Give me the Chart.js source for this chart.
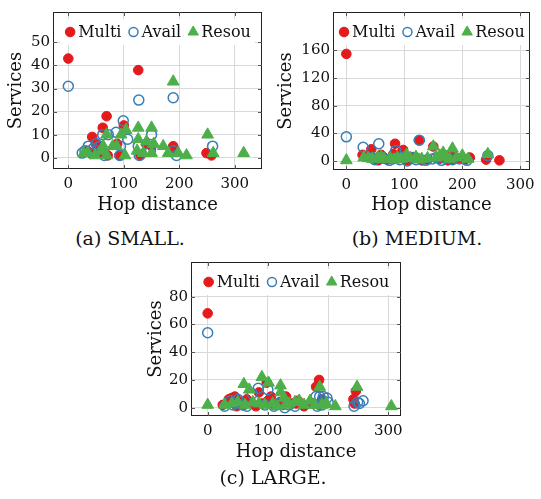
<!DOCTYPE html>
<html>
<head>
<meta charset="utf-8">
<script src="https://cdn.jsdelivr.net/npm/chart.js@4.4.0/dist/chart.umd.min.js"></script>
<style>
  body { margin: 0; background: #fff; width: 541px; height: 499px; position: relative; overflow: hidden; font-family: "DejaVu Serif", serif; }
  canvas { position: absolute; }
  .cap { position: absolute; text-align: center; font-size: 19px; line-height: 24px; color: #111; white-space: nowrap; }
</style>
</head>
<body>
<canvas id="small" width="270" height="220" style="left:0;top:0"></canvas>
<canvas id="medium" width="271" height="220" style="left:270px;top:0"></canvas>
<canvas id="large" width="270" height="217" style="left:140px;top:250px"></canvas>
<div class="cap" style="left:0;top:226px;width:260px">(a) SMALL.</div>
<div class="cap" style="left:317px;top:226px;width:200px">(b) MEDIUM.</div>
<div class="cap" style="left:173px;top:465px;width:200px">(c) LARGE.</div>
<script>
// [hop distance, services]
const smallMulti = [[0,43],[126,38],[69,18],[62,13],[43,9],[100,14],[88,6],[50,6],[34,3],[56,4],[62,2],[71,1],[92,1],[130,1],[140,6],[150,5],[189,5],[249,2],[258,1],[190,4],[40,2]];
const smallAvail = [[0,31],[127,25],[189,26],[99,16],[86,11],[62,10],[72,10],[150,10],[107,8],[36,5],[50,6],[45,4],[25,2],[94,5],[126,5],[128,1],[65,1],[93,1],[148,3],[189,3],[195,1],[260,5],[57,5],[30,3]];
const smallResou = [[189,33],[126,13],[150,13],[104,12],[95,10],[251,10],[69,10],[126,8],[141,7],[154,6],[171,5],[87,5],[63,5],[124,3],[180,2],[198,2],[213,1],[261,2],[316,2],[135,2],[150,2],[102,1],[35,2],[48,1],[69,1],[28,2],[80,5],[60,3]];

const mediumMulti = [[0,155],[125,30],[84,25],[150,21],[43,17],[98,16],[28,9],[60,9],[81,10],[95,12],[181,8],[213,5],[241,2],[264,1],[50,3],[70,2],[105,1],[120,5],[140,2],[160,3],[175,1],[195,4],[205,2],[110,6],[65,5],[90,4],[130,1],[170,6],[55,1],[185,3]];
const mediumAvail = [[0,35],[29,20],[56,25],[85,15],[126,30],[244,8],[49,2],[74,1],[137,1],[164,1],[183,2],[208,1],[92,2],[115,5],[148,3],[63,4],[100,6],[170,4],[80,3],[45,5],[120,2],[195,3],[105,0],[155,5]];
const mediumResou = [[0,1],[150,21],[183,18],[244,10],[200,8],[104,9],[161,8],[167,12],[172,6],[38,4],[54,5],[65,3],[75,4],[88,5],[95,3],[110,4],[120,6],[130,3],[140,4],[155,5],[190,5],[210,3],[45,3],[82,2],[125,2],[178,3],[30,5],[60,6]];

const largeMulti = [[0,68],[185,20],[180,15],[98,18],[85,11],[246,12],[242,6],[244,3],[147,3],[150,5],[25,2],[35,6],[40,7],[45,8],[50,5],[55,3],[60,2],[70,4],[80,1],[90,3],[100,5],[110,2],[120,4],[130,8],[140,3],[160,1],[175,3],[190,6],[48,1],[65,6],[105,8],[125,2],[185,2]];
const largeAvail = [[0,54],[84,14],[100,13],[74,10],[180,8],[186,8],[192,8],[198,7],[200,4],[243,1],[249,4],[258,5],[252,3],[28,1],[38,5],[45,3],[50,6],[58,2],[65,1],[95,2],[110,1],[118,3],[128,0],[135,2],[145,1],[182,1],[190,2],[42,2]];
const largeResou = [[0,2],[90,22],[60,17],[69,13],[101,18],[121,16],[121,11],[127,7],[28,2],[186,15],[248,15],[305,1],[212,1],[170,5],[152,5],[197,3],[40,3],[50,4],[62,2],[75,4],[85,3],[95,2],[108,3],[115,1],[135,3],[145,4],[160,2],[178,2],[190,2],[130,2]];

const hopTicks = [0, 100, 200, 300];
const smallTicks = [0, 10, 20, 30, 40, 50];
const mediumTicks = [0, 40, 80, 120, 160];
const largeTicks = [0, 20, 40, 60, 80];

const RED = '#e41a1c', BLUE = '#377eb8', GREEN = '#4daf4a';
const GRID = '#d9d9d9', FRAME = '#222', INK = '#111';
const SERIF = '"DejaVu Serif", serif';

const toPts = arr => arr.map(p => ({ x: p[0], y: p[1] }));

// pgfplots-like box: full frame, inner tick marks, legend inside the top of the plot
const framePlugin = {
  id: 'frame',
  afterDatasetsDraw(chart) {
    const { ctx, chartArea: a, scales } = chart;
    const line = (x1, y1, x2, y2) => { ctx.beginPath(); ctx.moveTo(x1, y1); ctx.lineTo(x2, y2); ctx.stroke(); };
    ctx.save();

    // legend
    ctx.font = '16px ' + SERIF;
    ctx.textBaseline = 'middle';
    const items = chart.data.datasets.map(ds => ({ ds, w: ctx.measureText(ds.label).width }));
    const mark = 12, gap = 2, sep = 6;
    const total = items.reduce((s, it) => s + mark + gap + it.w, 0) + sep * (items.length - 1);
    let lx = (a.left + a.right) / 2 - total / 2;
    const ly = a.top + 20;
    ctx.fillStyle = '#fff';
    ctx.fillRect(lx - 4, ly - 13, total + 8, 26);
    items.forEach(it => {
      const ds = it.ds;
      ctx.fillStyle = ds.backgroundColor;
      ctx.strokeStyle = ds.borderColor;
      ctx.lineWidth = ds.borderWidth;
      Chart.helpers.drawPoint(ctx, { pointStyle: ds.pointStyle, radius: ds.legendRadius, borderWidth: ds.borderWidth, rotation: 0 }, lx + mark / 2, ly);
      ctx.fillStyle = INK;
      ctx.fillText(ds.label, lx + mark + gap, ly + 1);
      lx += mark + gap + it.w + sep;
    });

    // frame and tick marks
    ctx.strokeStyle = FRAME;
    ctx.lineWidth = 1;
    ctx.strokeRect(Math.round(a.left) + 0.5, Math.round(a.top) + 0.5, Math.round(a.width) - 1, Math.round(a.height) - 1);
    ctx.strokeStyle = '#555';
    scales.x.ticks.forEach(t => {
      const px = Math.round(scales.x.getPixelForValue(t.value)) + 0.5;
      line(px, a.bottom, px, a.bottom - 4);
      line(px, a.top, px, a.top + 4);
    });
    scales.y.ticks.forEach(t => {
      const py = Math.round(scales.y.getPixelForValue(t.value)) + 0.5;
      line(a.left, py, a.left + 4, py);
      line(a.right, py, a.right - 4, py);
    });
    ctx.restore();
  }
};

function makeChart(id, multi, avail, resou, yTicks, box) {
  const tickFont = { family: SERIF, size: 15 };
  const titleFont = { family: SERIF, size: 18 };
  new Chart(document.getElementById(id), {
    type: 'scatter',
    data: {
      datasets: [
        { label: 'Multi', data: toPts(multi), pointStyle: 'circle', pointRadius: 4.8, legendRadius: 4.8,
          backgroundColor: RED, borderColor: RED, borderWidth: 1, order: 2 },
        { label: 'Avail', data: toPts(avail), pointStyle: 'circle', pointRadius: 5, legendRadius: 4.5,
          backgroundColor: 'rgba(0,0,0,0)', borderColor: BLUE, borderWidth: 1.5, order: 1 },
        { label: 'Resou', data: toPts(resou), pointStyle: 'triangle', pointRadius: 6.8, legendRadius: 6,
          backgroundColor: GREEN, borderColor: GREEN, borderWidth: 1, order: 0 }
      ]
    },
    options: {
      responsive: false,
      animation: false,
      devicePixelRatio: 1,
      layout: { padding: { top: box.top, right: box.right, left: 2, bottom: 0 } },
      plugins: { legend: { display: false }, tooltip: { enabled: false } },
      scales: {
        x: {
          type: 'linear', min: box.xmin, max: box.xmax,
          afterBuildTicks: s => { s.ticks = hopTicks.map(v => ({ value: v })); },
          afterFit: s => { s.height = box.xh; },
          grid: { color: GRID, drawTicks: false },
          border: { display: false },
          ticks: { padding: 6, maxRotation: 0, font: tickFont, color: INK },
          title: { display: true, text: 'Hop distance', font: titleFont, color: INK }
        },
        y: {
          type: 'linear', min: box.ymin, max: box.ymax,
          afterBuildTicks: s => { s.ticks = yTicks.map(v => ({ value: v })); },
          afterFit: s => { s.width = box.yw; },
          grid: { color: GRID, drawTicks: false },
          border: { display: false },
          ticks: { padding: 3, font: tickFont, color: INK },
          title: { display: true, text: 'Services', font: titleFont, color: INK }
        }
      }
    },
    plugins: [framePlugin]
  });
}

makeChart('small', smallMulti, smallAvail, smallResou, smallTicks,
  { top: 7, right: 8, xh: 51, yw: 51, xmin: -27.6, xmax: 349, ymin: -4.9, ymax: 63.2 });
makeChart('medium', mediumMulti, mediumAvail, mediumResou, mediumTicks,
  { top: 7, right: 2, xh: 50, yw: 61, xmin: -23, xmax: 316.5, ymin: -13, ymax: 215.7 });
makeChart('large', largeMulti, largeAvail, largeResou, largeTicks,
  { top: 4, right: 9, xh: 51, yw: 49, xmin: -27.7, xmax: 321, ymin: -6, ymax: 105 });
</script>
</body>
</html>
